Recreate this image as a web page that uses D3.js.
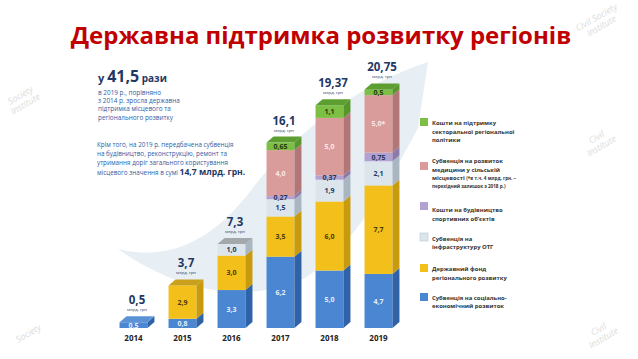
<!DOCTYPE html>
<html><head><meta charset="utf-8">
<script src="https://cdn.jsdelivr.net/npm/d3@7"></script>
<style>
html,body{margin:0;padding:0;background:#fff;}
svg{display:block;font-family:"Open Sans","Noto Sans",sans-serif;}
</style></head>
<body>
<svg id="c" width="638" height="359"></svg>
<script>
// ---- data ----
const years = ["2014","2015","2016","2017","2018","2019"];
const socialEconomic = [0.5, 0.8, 3.3, 6.2, 5.0, 4.7];
const regionalFund   = [0,   2.9, 3.0, 3.5, 6.0, 7.7];
const infraOTG       = [0,   0,   1.0, 1.5, 1.9, 2.1];
const sportObjects   = [0,   0,   0,   0.27,0.37,0.75];
const ruralMedicine  = [0,   0,   0,   4.0, 5.0, 5.0];
const sectoralPolicy = [0,   0,   0,   0.65,1.1, 0.5];
const totals = [0.5, 3.7, 7.3, 16.1, 19.37, 20.75];
const medicineNote = ["", "", "", "", "", "*"];
const unitLabel = "млрд. грн";

const seriesKeys = ["social","fund","infra","sport","med","sect"];
const seriesValues = {social:socialEconomic, fund:regionalFund, infra:infraOTG, sport:sportObjects, med:ruralMedicine, sect:sectoralPolicy};
const legendItems = [
  {key:"sect", lines:["Кошти на підтримку","секторальної регіональної","політики"]},
  {key:"med", lines:["Субвенція на розвиток","медицини у сільській","місцевості |(*в т.ч. 4 млрд. грн. –","|перехідний залишок з 2018 р.)"]},
  {key:"sport", lines:["Кошти на будівництво","спортивних об’єктів"]},
  {key:"infra", lines:["Субвенція на","інфраструктуру ОТГ"]},
  {key:"fund", lines:["Державний фонд","регіонального розвитку"]},
  {key:"social", lines:["Субвенція на соціально-","економічний розвиток"]}
];

// ---- styles ----
const col = {
  social:{front:"#4a86d2", side:"#2f62a6", top:"#5b92d6", text:"#e6eefa"},
  fund:{front:"#f3bf1b", side:"#c89b0e", top:"#caa11c", text:"#4a3a06"},
  infra:{front:"#dce5ec", side:"#a9b6c1", top:"#a3a8ad", text:"#1f3864"},
  sport:{front:"#b3a2cf", side:"#8b79a8", top:"#9c8cbc", text:"#1f3864"},
  med:{front:"#da9b9b", side:"#b37676", top:"#c88b8b", text:"#fbeaea"},
  sect:{front:"#7cbf44", side:"#56962b", top:"#5c9f30", text:"#233a0e"}
};
const legendYs = {sect:[123,131.5,140], med:[161,169.5,178,186], sport:[210,218.5], infra:[238.5,247], fund:[269,277.5], social:[297.5,306]};
const legendSq = {sect:122, med:166, sport:206, infra:237, fund:268, social:297};

const svg = d3.select("#c");
const fmt = v => ((Math.abs(v*10 - Math.round(v*10)) < 1e-6) ? v.toFixed(1) : v.toFixed(2)).replace(".", ",");

// watermarks
const wm = [
  {x:598,y:140,t:["Civil","Institute"]},
  {x:600,y:332,t:["Civil","Institute"]},
  {x:22,y:98,t:["Society","Institute"]},
  {x:30,y:336,t:["Society"]},
  {x:598,y:20,t:["Civil Society","Institute"]}
];
wm.forEach(w=>{
  const g = svg.append("g").attr("transform",`translate(${w.x},${w.y}) rotate(-30)`);
  w.t.forEach((s,i)=>g.append("text").attr("x",0).attr("y",i*10).attr("text-anchor","middle")
    .attr("font-size",9).attr("font-style","italic").attr("fill","#dcdcdc").text(s));
});

// background swoosh
svg.append("path")
  .attr("d","M118,249 C170,262 215,240 255,185 C295,135 350,88 428,62 L418,128 C385,190 350,250 305,278 C260,300 190,300 118,249 Z")
  .attr("fill","#e7eef4");

// title
svg.append("text").attr("x",321).attr("y",44).attr("text-anchor","middle")
  .attr("font-size",24).attr("font-weight","bold").attr("fill","#c00000")
  .text("Державна підтримка розвитку регіонів");

// left text block
const lt = svg.append("text").attr("x",98).attr("y",82).attr("fill","#1f3864").attr("font-weight","bold");
lt.append("tspan").attr("font-size",11).text("у ");
lt.append("tspan").attr("font-size",16).text("41,5");
lt.append("tspan").attr("font-size",10).text(" рази");
const p1 = ["в 2019 р., порівняно","з 2014 р. зросла державна","підтримка місцевого та","регіонального розвитку"];
p1.forEach((s,i)=>svg.append("text").attr("x",98).attr("y",94.5+i*8.4).attr("font-size",6.4).attr("fill","#2f5da5").text(s));
const p2 = ["Крім того, на 2019 р. передбачена субвенція","на будівництво, реконструкцію, ремонт та","утримання доріг  загального користування"];
p2.forEach((s,i)=>svg.append("text").attr("x",97).attr("y",146.5+i*9).attr("font-size",6.3).attr("fill","#2f5da5").text(s));
const p3 = svg.append("text").attr("x",97).attr("y",174.5).attr("fill","#2f5da5");
p3.append("tspan").attr("font-size",6.3).text("місцевого значення в сумі ");
p3.append("tspan").attr("font-size",8.6).attr("font-weight","bold").attr("fill","#1f3864").text("14,7 млрд. грн.");

// scales
const x = d3.scaleBand().domain(years).range([109,403]).paddingInner(0.43).paddingOuter(0.215);
const y = d3.scaleLinear().domain([0,21]).range([328,86.5]);
const bw = x.bandwidth(), dx = 7, dy = 6;

const table = years.map((yr,i)=>{const o={year:yr}; seriesKeys.forEach(k=>o[k]=seriesValues[k][i]); return o;});
const stacked = d3.stack().keys(seriesKeys)(table);

const gBars = svg.append("g");
years.forEach((yr,i)=>{
  const x0 = x(yr);
  const segs = [];
  stacked.forEach(s=>{ const d=s[i]; const v = seriesValues[s.key][i]; if (v > 0) segs.push({key:s.key, y0:d[0], y1:d[1], v:v}); });
  segs.forEach((s,j)=>{
    const c = col[s.key];
    const yt = y(s.y1), yb = y(s.y0);
    gBars.append("rect").attr("x",x0).attr("y",yt).attr("width",bw).attr("height",yb-yt).attr("fill",c.front);
    gBars.append("polygon").attr("points",`${x0+bw},${yt} ${x0+bw+dx},${yt-dy} ${x0+bw+dx},${yb-dy} ${x0+bw},${yb}`).attr("fill",c.side);
    if (j === segs.length-1) {
      gBars.append("polygon").attr("points",`${x0},${yt} ${x0+dx},${yt-dy} ${x0+bw+dx},${yt-dy} ${x0+bw},${yt}`).attr("fill",c.top);
    }
  });
  segs.forEach(s=>{
    const c = col[s.key];
    const note = s.key==="med" ? medicineNote[i] : "";
    gBars.append("text").attr("x",x0+bw/2).attr("y",(y(s.y1)+y(s.y0))/2+2.6)
      .attr("text-anchor","middle").attr("font-size",7).attr("font-weight","bold").attr("fill",c.text)
      .text(fmt(s.v)+note);
  });
  const top = y(totals[i]) - dy;
  svg.append("text").attr("x",x0+bw/2+3.5).attr("y",top-12).attr("text-anchor","middle")
    .attr("font-size",11.5).attr("font-weight","bold").attr("fill","#1f3864").text(fmt(totals[i]));
  svg.append("text").attr("x",x0+bw/2+3.5).attr("y",top-5).attr("text-anchor","middle")
    .attr("font-size",4.3).attr("fill","#1f3864").text(unitLabel);
});

// x axis labels
const xAxis = d3.axisBottom(x).tickSize(0).tickPadding(0);
const ga = svg.append("g").attr("transform","translate(0,335)").call(xAxis);
ga.select(".domain").remove();
ga.selectAll("text").attr("font-size",8).attr("font-weight","bold").attr("fill","#222")
  .attr("font-family","'Open Sans',sans-serif").attr("dy","0.71em");

// legend
legendItems.forEach(it=>{
  const c = col[it.key];
  svg.append("rect").attr("x",420).attr("y",legendSq[it.key]-4).attr("width",8).attr("height",8).attr("fill",c.front)
    .attr("stroke", it.key==="infra" ? "#b9c6d0" : "none").attr("stroke-width",0.6);
  it.lines.forEach((ln,j)=>{
    const t = svg.append("text").attr("x",432).attr("y",legendYs[it.key][j]+2).attr("fill","#333").attr("font-weight","bold");
    const parts = ln.split("|");
    t.append("tspan").attr("font-size",5.9).text(parts[0]);
    if (parts.length>1) t.append("tspan").attr("font-size",4.6).text(parts[1]);
  });
});
</script>
</body></html>
